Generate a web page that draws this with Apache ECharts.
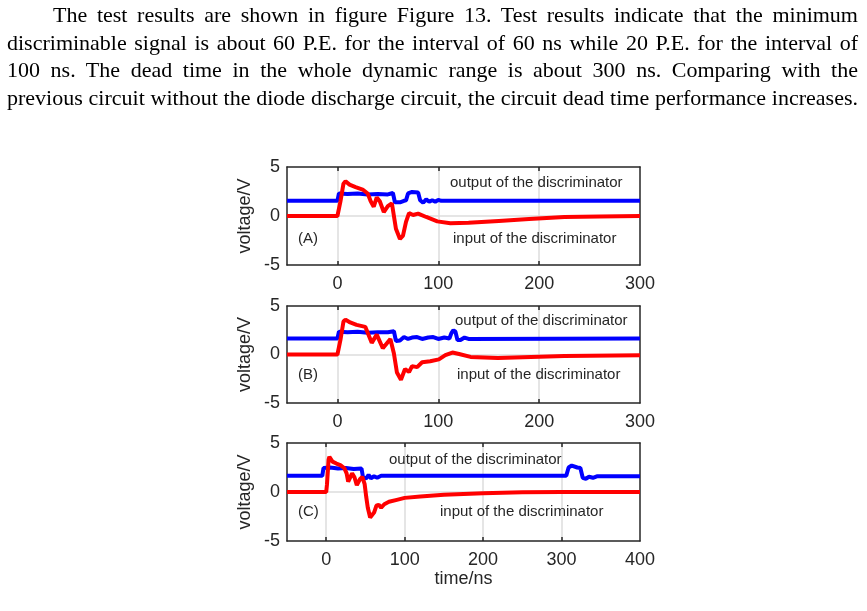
<!DOCTYPE html>
<html>
<head>
<meta charset="utf-8">
<title>Figure 13</title>
<script src="https://cdn.jsdelivr.net/npm/echarts@6/dist/echarts.min.js"></script>
<style>
    html, body { margin: 0; padding: 0; background: #fff; }
    #chart { position: absolute; left: 0; top: 0; width: 867px; height: 611px; }
    #text {
        position: absolute; left: 7px; top: 1px; width: 851px;
        font-family: 'Liberation Serif', 'Times New Roman', serif;
        font-size: 22px; line-height: 27.7px; color: #000;
    }
    #text div { text-align: justify; text-align-last: justify; }
    #text .first { padding-left: 46px; }
</style>
</head>
<body>
<div id="chart"></div>
<div id="text">
    <div class="first">The test results are shown in figure Figure 13. Test results indicate that the minimum</div>
    <div>discriminable signal is about 60 P.E. for the interval of 60 ns while 20 P.E. for the interval of</div>
    <div>100 ns. The dead time in the whole dynamic range is about 300 ns. Comparing with the</div>
    <div>previous circuit without the diode discharge circuit, the circuit dead time performance increases.</div>
</div>
<script>
// 刻度
const gridTicksAB = [0, 100, 200]
const gridTicksC = [0, 100, 200, 300]
const labelsAB = [0, 100, 200, 300]
const labelsC = [0, 100, 200, 300, 400]
const yLabels = [-5, 0, 5]
const panelNames = ['(A)', '(B)', '(C)']

// (A) 间隔 60 ns
const inputA = [[-50, 0], [0, 0], [3, 1.5], [6, 3.3], [8, 3.55], [12, 3.2], [18, 2.95], [25, 2.7], [30, 2.3],
    [33, 1.5], [36, 0.95], [39, 1.9], [42, 1.5], [46, 0.4], [50, 1.0], [54, 1.3], [56, 0.0], [58, -1.3],
    [62, -2.35], [65, -2.0], [68, -0.6], [71, 0.3], [75, 0.1], [80, 0.25], [88, -0.1], [99, -0.55],
    [112, -0.75], [130, -0.7], [160, -0.5], [190, -0.3], [225, -0.1], [260, -0.05], [300, 0]]
const outputA = [[-50, 1.55], [0, 1.55], [1.5, 2.3], [10, 2.25], [20, 2.3], [30, 2.2], [40, 2.25], [50, 2.2],
    [55, 2.35], [57, 1.4], [62, 1.4], [66, 1.55], [68, 1.6], [70, 2.3], [74, 2.45], [80, 2.4], [82, 1.6],
    [85, 1.35], [88, 1.7], [91, 1.45], [94, 1.6], [97, 1.45], [100, 1.65], [103, 1.55], [300, 1.55]]

// (B) 间隔 100 ns
const inputB = [[-50, 0], [0, 0], [3, 1.5], [6, 3.4], [8, 3.6], [12.6, 3.3], [19, 3.05], [27.6, 2.85],
    [34, 1.2], [39, 2.05], [45, 0.65], [52.5, 1.6], [56, 0.1], [59, -1.85], [63, -2.6], [67, -1.5],
    [71, -1.8], [74, -1.2], [79, -1.3], [84, -0.8], [92, -0.7], [100.6, -0.5], [107, -0.07], [114, 0.2],
    [120.6, 0.05], [132, -0.25], [159, -0.35], [192, -0.25], [225, -0.15], [300, -0.07]]
const outputB = [[-50, 1.65], [0, 1.65], [1.5, 2.35], [10, 2.3], [20, 2.35], [30, 2.25], [40, 2.3], [50, 2.3],
    [56, 2.4], [58, 1.4], [62, 1.45], [66, 1.8], [70, 1.6], [74, 1.75], [79, 1.8], [84, 1.6], [90, 1.75],
    [95, 1.8], [100, 1.6], [106, 1.75], [111, 1.65], [113, 2.2], [115, 2.5], [117, 2.35], [119, 1.5],
    [122, 1.5], [126, 1.75], [130, 1.6], [300, 1.65]]

// (C) 死时间
const inputC = [[-50, 0], [0, 0], [1, 0.8], [3, 3.3], [4, 3.6], [8, 3.1], [13, 2.9], [18, 2.75], [23, 2.45],
    [26, 1.9], [28, 1.05], [33, 1.9], [36, 1.5], [39, 0.7], [43, 1.3], [46, 1.55], [49, 0.8], [51, -0.5],
    [53, -1.6], [56, -2.6], [58, -2.8], [61, -2.1], [64, -1.4], [67, -1.3], [70, -1.6], [74, -1.25],
    [80, -1.0], [90, -0.8], [100, -0.6], [120, -0.45], [150, -0.28], [200, -0.12], [250, -0.03],
    [300, 0], [400, 0]]
const outputC = [[-50, 1.65], [-5, 1.65], [-3.5, 2.45], [5, 2.5], [15, 2.4], [25, 2.45], [35, 2.35], [45, 2.4],
    [47, 1.45], [51, 1.4], [54, 1.75], [57, 1.4], [61, 1.6], [65, 1.45], [70, 1.65], [306, 1.65], [309, 2.5],
    [313, 2.7], [320, 2.5], [324, 2.45], [327, 1.45], [331, 1.35], [335, 1.55], [340, 1.45], [345, 1.6],
    [400, 1.6]]

const FONT = "'Liberation Sans', Arial, sans-serif"
const INK = '#262626'
const panels = [
    {top: 167, height: 98, xMax: 300, ticks: gridTicksAB, labels: labelsAB, input: inputA, output: outputA},
    {top: 306, height: 97, xMax: 300, ticks: gridTicksAB, labels: labelsAB, input: inputB, output: outputB},
    {top: 443, height: 98, xMax: 400, ticks: gridTicksC, labels: labelsC, input: inputC, output: outputC}
]
// 注释文字位置 [输出左, 输出中线, 输入左, 输入中线]
const notePos = [[450, 184, 453, 240], [455, 322, 457, 376], [389, 461, 440, 513]]

let grid = [], xAxis = [], yAxis = [], series = [], graphic = []
const axisLine = {onZero: false, lineStyle: {color: INK, width: 1.5}}

panels.forEach((p, i) => {
    grid.push({left: 287, top: p.top, width: 353, height: p.height})
    xAxis.push({
        type: 'value', gridIndex: i, min: -50, max: p.xMax, position: 'bottom',
        axisLine: axisLine,
        axisTick: {inside: true, length: 4, customValues: p.ticks, lineStyle: {color: INK, width: 1.5}},
        axisLabel: {customValues: p.labels, fontSize: 18, color: INK, margin: 10, fontFamily: FONT},
        splitLine: {show: true, lineStyle: {color: '#dcdcdc', width: 1.5}},
        name: i === 2 ? 'time/ns' : '', nameLocation: 'middle', nameGap: 28,
        nameTextStyle: {fontSize: 18, color: INK, fontFamily: FONT},
        z: 1
    })
    xAxis.push({
        type: 'value', gridIndex: i, min: -50, max: p.xMax, position: 'top',
        axisLine: axisLine,
        axisTick: {inside: true, length: 4, customValues: p.ticks, lineStyle: {color: INK, width: 1.5}},
        axisLabel: {show: false}, splitLine: {show: false}, z: 3
    })
    yAxis.push({
        type: 'value', gridIndex: i, min: -5, max: 5, interval: 5, position: 'left',
        axisLine: axisLine,
        axisTick: {inside: true, length: 4, customValues: [0], lineStyle: {color: INK, width: 1.5}},
        axisLabel: {customValues: yLabels, fontSize: 18, color: INK, margin: 7, fontFamily: FONT},
        splitLine: {show: true, lineStyle: {color: '#dcdcdc', width: 1.5}},
        name: 'voltage/V', nameLocation: 'middle', nameGap: 33, nameRotate: 90,
        nameTextStyle: {fontSize: 18, color: INK, fontFamily: FONT},
        z: 3
    })
    yAxis.push({
        type: 'value', gridIndex: i, min: -5, max: 5, interval: 5, position: 'right',
        axisLine: axisLine,
        axisTick: {inside: true, length: 4, customValues: [0], lineStyle: {color: INK, width: 1.5}},
        axisLabel: {show: false}, splitLine: {show: false}, z: 3
    })
    series.push({
        name: 'output of the discriminator', type: 'line', xAxisIndex: 2 * i, yAxisIndex: 2 * i,
        data: p.output, showSymbol: false, animation: false, z: 5,
        lineStyle: {color: '#0000ff', width: 4}
    })
    series.push({
        name: 'input of the discriminator', type: 'line', xAxisIndex: 2 * i, yAxisIndex: 2 * i,
        data: p.input, showSymbol: false, animation: false, z: 6,
        lineStyle: {color: '#ff0000', width: 4}
    })
    const n = notePos[i]
    const txt = (t, left, mid) => ({
        type: 'text', left: left, top: mid - 9, z: 10,
        style: {text: t, fontSize: 15, fontFamily: FONT, fill: INK}
    })
    graphic.push(txt('output of the discriminator', n[0], n[1]))
    graphic.push(txt('input of the discriminator', n[2], n[3]))
    graphic.push(txt(panelNames[i], 298, n[3]))
})

const chart = echarts.init(document.getElementById('chart'))
chart.setOption({
    animation: false,
    backgroundColor: 'transparent',
    grid: grid,
    xAxis: xAxis,
    yAxis: yAxis,
    series: series,
    graphic: graphic
})
</script>
</body>
</html>
